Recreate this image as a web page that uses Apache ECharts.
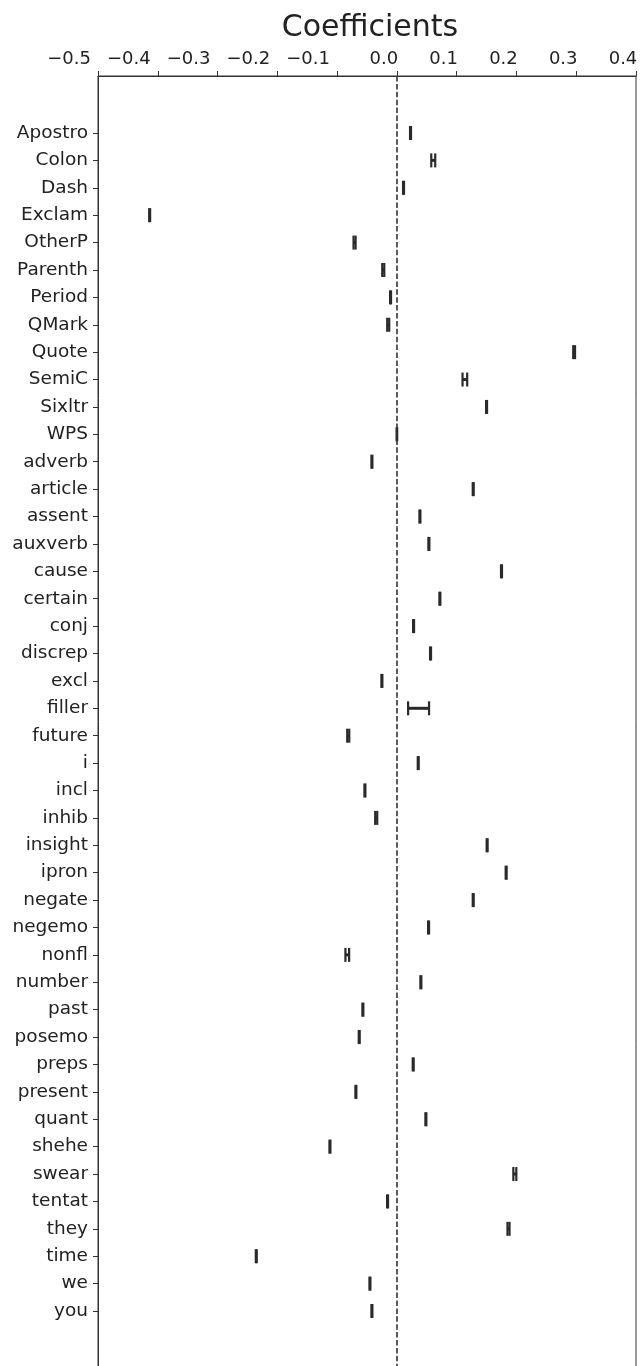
<!DOCTYPE html>
<html>
<head>
<meta charset="utf-8">
<title>Coefficients</title>
<script src="https://cdn.jsdelivr.net/npm/echarts@6/dist/echarts.min.js"></script>
<style>
  html, body { margin: 0; padding: 0; background: #ffffff; }
  #chart { width: 643px; height: 1366px; }
</style>
</head>
<body>
<div id="chart"></div>
<script>
// LIWC feature names, top to bottom
const categories = [
  'Apostro', 'Colon', 'Dash', 'Exclam', 'OtherP', 'Parenth', 'Period', 'QMark',
  'Quote', 'SemiC', 'Sixltr', 'WPS', 'adverb', 'article', 'assent', 'auxverb',
  'cause', 'certain', 'conj', 'discrep', 'excl', 'filler', 'future', 'i',
  'incl', 'inhib', 'insight', 'ipron', 'negate', 'negemo', 'nonfl', 'number',
  'past', 'posemo', 'preps', 'present', 'quant', 'shehe', 'swear', 'tentat',
  'they', 'time', 'we', 'you'
];

// fitted coefficient for each feature
const coefficients = [
  0.0228, 0.0608, 0.0111, -0.4136, -0.0708, -0.0228, -0.0106, -0.0145,
  0.2965, 0.1137, 0.1500, 0.0000, -0.0418, 0.1277, 0.0385, 0.0535,
  0.1750, 0.0719, 0.0279, 0.0563, -0.0251, 0.0363, -0.0814, 0.0357,
  -0.0535, -0.0346, 0.1510, 0.1828, 0.1277, 0.0530, -0.0830, 0.0401,
  -0.0569, -0.0630, 0.0273, -0.0686, 0.0485, -0.1120, 0.1973, -0.0156,
  0.1867, -0.2352, -0.0451, -0.0418
];

// half-width of each error bar
const errors = [
  0.0008, 0.0033, 0.0008, 0.0008, 0.0017, 0.0017, 0.0008, 0.0017,
  0.0015, 0.0039, 0.0008, 0.0005, 0.0008, 0.0008, 0.0008, 0.0008,
  0.0008, 0.0008, 0.0008, 0.0008, 0.0008, 0.0175, 0.0017, 0.0008,
  0.0008, 0.0017, 0.0008, 0.0008, 0.0008, 0.0008, 0.0031, 0.0008,
  0.0008, 0.0008, 0.0008, 0.0008, 0.0008, 0.0008, 0.0025, 0.0008,
  0.0017, 0.0008, 0.0008, 0.0008
];

// x-axis tick values
const xTicks = [-0.5, -0.4, -0.3, -0.2, -0.1, 0.0, 0.1, 0.2, 0.3, 0.4];
const zeroLine = 0;

const ink = '#2a2a2a';
const font = 'DejaVu Sans';

const rows = categories.map((name, i) => [
  coefficients[i], i, coefficients[i] - errors[i], coefficients[i] + errors[i]
]);

function renderErrorBar(params, api) {
  const yPix = api.coord([api.value(0), api.value(1)])[1];
  const lo = api.coord([api.value(2), api.value(1)])[0];
  const hi = api.coord([api.value(3), api.value(1)])[0];
  const capHalf = 7;
  const capStyle = { stroke: ink, lineWidth: 2.2 };
  return {
    type: 'group',
    children: [
      { type: 'line', shape: { x1: lo, y1: yPix, x2: hi, y2: yPix },
        style: { stroke: ink, lineWidth: 3 } },
      { type: 'line', shape: { x1: lo, y1: yPix - capHalf, x2: lo, y2: yPix + capHalf },
        style: capStyle },
      { type: 'line', shape: { x1: hi, y1: yPix - capHalf, x2: hi, y2: yPix + capHalf },
        style: capStyle }
    ]
  };
}

// tick text sits a little left of its tick; signed labels sit further left
function tickText(v) {
  const txt = (v < 0 ? '\u2212' : '') + Math.abs(v).toFixed(1);
  return v < 0 ? '{neg|' + txt + '}' : '{pos|' + txt + '}';
}

const chart = echarts.init(document.getElementById('chart'), null, { renderer: 'canvas' });

chart.setOption({
  animation: false,
  backgroundColor: '#ffffff',
  title: {
    text: 'Coefficients',
    left: 365,
    top: 8,
    textAlign: 'center',
    textStyle: { fontFamily: font, fontSize: 30, fontWeight: 'normal', color: '#222' }
  },
  grid: {
    left: 98, right: 7, top: 76, height: 1292,
    outerBoundsMode: 'none',
    containLabel: false,
    show: true, borderColor: '#333', borderWidth: 1, backgroundColor: 'transparent'
  },
  xAxis: {
    type: 'value',
    position: 'top',
    min: -0.5,
    max: 0.4,
    interval: 0.1,
    axisLine: { show: true, onZero: false, lineStyle: { color: '#333', width: 1 } },
    axisTick: { show: true, length: 5, lineStyle: { color: '#333' },
      customValues: xTicks },
    axisLabel: {
      customValues: xTicks,
      margin: 8,
      hideOverlap: false,
      fontFamily: font, fontSize: 18, color: '#222',
      formatter: tickText,
      rich: {
        neg: { fontFamily: font, fontSize: 18, color: '#222', padding: [0, 58, 0, 0] },
        pos: { fontFamily: font, fontSize: 18, color: '#222', padding: [0, 26, 0, 0] }
      }
    },
    splitLine: { show: false }
  },
  yAxis: {
    type: 'value',
    inverse: true,
    min: -2.08,
    max: 45.08,
    axisLine: { show: true, onZero: false, lineStyle: { color: '#333', width: 1 } },
    axisTick: { show: true, length: 5, lineStyle: { color: '#333' },
      customValues: categories.map((c, i) => i) },
    axisLabel: {
      customValues: categories.map((c, i) => i),
      margin: 10,
      fontFamily: font, fontSize: 18.5, color: '#222',
      formatter: v => categories[Math.round(v)] || ''
    },
    splitLine: { show: false }
  },
  series: [
    {
      type: 'custom',
      renderItem: renderErrorBar,
      encode: { x: [0, 2, 3], y: 1 },
      data: rows,
      clip: false,
      z: 3,
      markLine: {
        silent: true,
        symbol: 'none',
        label: { show: false },
        lineStyle: { color: '#333', width: 1.6, type: [5.5, 2.4] },
        data: [{ xAxis: zeroLine }]
      }
    }
  ]
});
</script>
</body>
</html>
